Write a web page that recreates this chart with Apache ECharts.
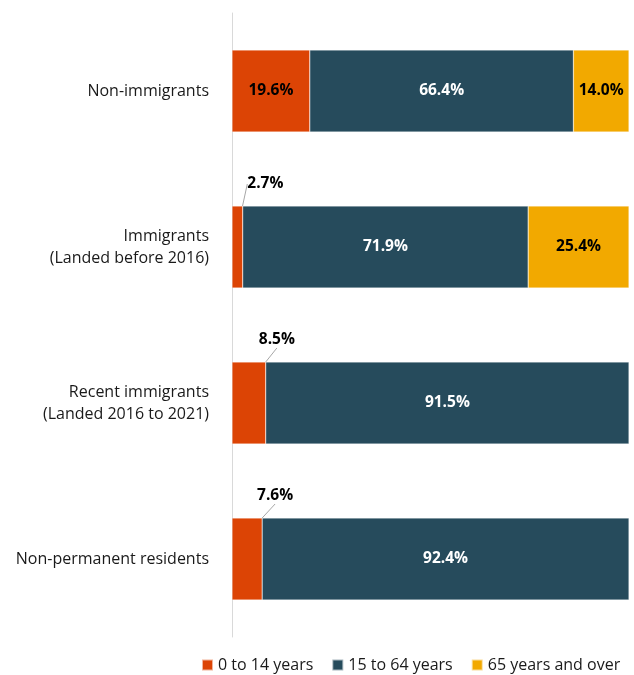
<!DOCTYPE html>
<html><head><meta charset="utf-8">
<script src="https://cdn.jsdelivr.net/npm/echarts@6/dist/echarts.min.js"></script>
<style>html,body{margin:0;padding:0;background:#fff}#c{width:634px;height:675px}</style>
</head><body><div id="c"></div>
<script>
const categories = ['Non-immigrants', 'Immigrants\n(Landed before 2016)', 'Recent immigrants\n(Landed 2016 to 2021)', 'Non-permanent residents'];
const seriesNames = ['0 to 14 years', '15 to 64 years', '65 years and over'];
const age0to14 = [19.6, 2.7, 8.5, 7.6];
const age15to64 = [66.4, 71.9, 91.5, 92.4];
const age65plus = [14.0, 25.4, null, null];
const colors = ['#DC4405', '#264B5C', '#F2A900'];
const FONT = '"Open Sans", "Noto Sans", sans-serif';

const chart = echarts.init(document.getElementById('c'), null, {renderer: 'canvas'});
function fmt(p){ return p.value == null ? '' : p.value.toFixed(1) + '%'; }
function mk(idx, data, textColor){
  return {
    name: seriesNames[idx], type: 'bar', stack: 'a', barWidth: 82,
    data: data.map(v => {
      if (idx === 0 && v != null && v < 10) {
        return {value: v, label: {position: 'top', color: '#000'}};
      }
      return v;
    }),
    itemStyle: {color: colors[idx], borderColor: 'rgba(255,255,255,0.6)', borderWidth: 0.5},
    label: {show: true, position: 'inside', formatter: fmt, color: textColor,
      fontFamily: FONT, fontWeight: 'bold', fontSize: 15.5},
    labelLayout: idx === 0 ? function(p){
      const v = age0to14[p.dataIndex];
      if (v < 10) return {dx: 28, dy: -9};
      return {};
    } : undefined,
    labelLine: idx === 0 ? {show: true, lineStyle: {color: '#a6a6a6', width: 1}} : undefined
  };
}
chart.setOption({
  animation: false,
  color: colors,
  grid: {left: 232, right: 5, top: 13, bottom: 38, containLabel: false},
  xAxis: {type: 'value', min: 0, max: 100, show: false},
  yAxis: {type: 'category', data: categories, inverse: true,
    axisLine: {show: true, lineStyle: {color: '#d9d9d9', width: 1}},
    axisTick: {show: false},
    axisLabel: {margin: 23, color: '#1a1a1a', fontFamily: FONT, fontSize: 16, lineHeight: 22, align: 'right'}
  },
  legend: {bottom: -3, left: 196, itemWidth: 11, itemHeight: 11, itemGap: 18,
    icon: 'rect', textStyle: {fontFamily: FONT, fontSize: 16, color: '#1a1a1a'},
    data: seriesNames},
  series: [mk(0, age0to14, '#000'), mk(1, age15to64, '#fff'), mk(2, age65plus, '#000')]
});
</script></body></html>
